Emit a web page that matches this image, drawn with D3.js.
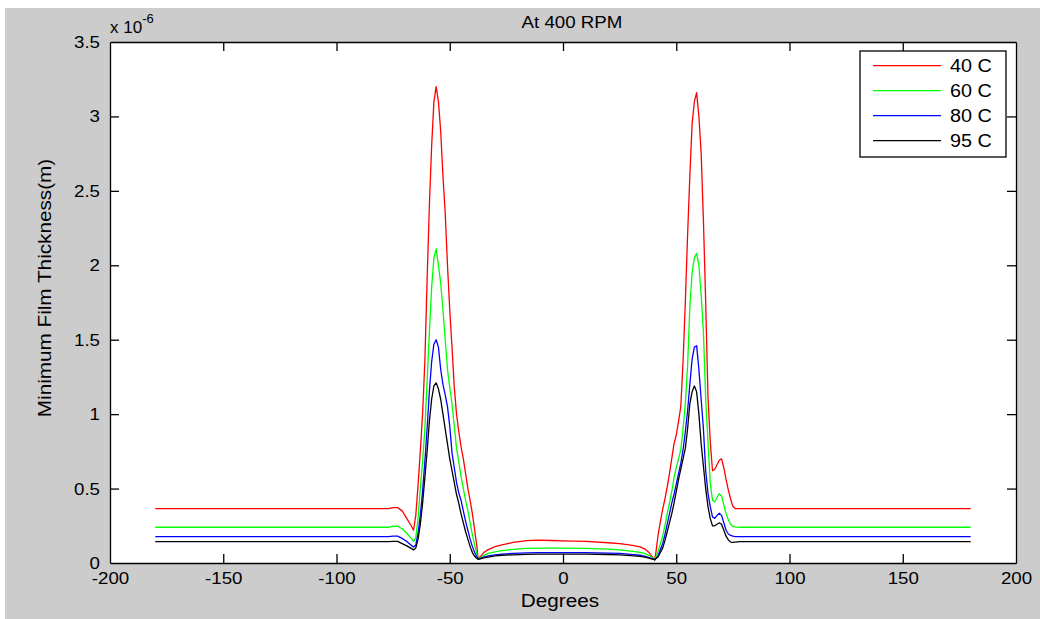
<!DOCTYPE html>
<html>
<head>
<meta charset="utf-8">
<script src="https://cdn.jsdelivr.net/npm/d3@7"></script>
<style>
  html, body { margin: 0; padding: 0; background: #ffffff; }
  svg { display: block; }
  text { font-family: "Liberation Sans", Arial, sans-serif; fill: #000; }
</style>
</head>
<body>
<svg id="chart" width="1040" height="619"></svg>
<script>
// ---------------- data ----------------
const degrees = [-180, -77, -75, -73, -71, -69, -67, -66, -65, -64, -63, -62, -61, -60, -59, -58, -57, -56, -55, -54,
  -53, -52, -51, -50, -49, -48, -47, -46, -45, -44, -43, -42, -41, -40, -39, -38, -37.5, -36, -35, -33,
  -30, -27, -22, -16, -11, -5, 0, 10, 20, 25, 30, 34, 36, 38, 39.5, 40.5, 41, 42, 43, 44,
  45, 46, 47, 48, 49, 50, 51, 52, 53, 54, 55, 56, 57, 58, 59, 60, 61, 62, 63, 64,
  65, 66, 67, 68, 69, 70, 71, 72, 73, 74, 75, 76, 78, 180];

// values in units of 1e-6 m
const temp40 = [0.365, 0.365, 0.372, 0.372, 0.35, 0.30, 0.25, 0.22, 0.32, 0.52, 0.75, 1.0, 1.35, 1.9, 2.4, 2.8, 3.1, 3.2, 3.1, 2.9,
  2.6, 2.35, 2.0, 1.7, 1.45, 1.18, 1.0, 0.88, 0.78, 0.7, 0.6, 0.5, 0.42, 0.33, 0.22, 0.11, 0.03, 0.05, 0.07, 0.09,
  0.11, 0.122, 0.138, 0.15, 0.154, 0.151, 0.149, 0.145, 0.136, 0.13, 0.12, 0.108, 0.095, 0.07, 0.04, 0.02, 0.07, 0.19, 0.28, 0.36,
  0.43, 0.51, 0.6, 0.7, 0.8, 0.86, 0.95, 1.05, 1.35, 1.75, 2.2, 2.6, 2.95, 3.1, 3.16, 3.0, 2.75, 2.3, 1.75, 1.12,
  0.82, 0.62, 0.63, 0.66, 0.69, 0.70, 0.64, 0.56, 0.49, 0.43, 0.38, 0.366, 0.365, 0.365];

const temp60 = [0.24, 0.24, 0.247, 0.247, 0.23, 0.20, 0.165, 0.145, 0.17, 0.30, 0.50, 0.68, 0.9, 1.22, 1.55, 1.85, 2.05, 2.11, 2.0, 1.88,
  1.7, 1.5, 1.3, 1.18, 1.07, 0.92, 0.77, 0.68, 0.58, 0.5, 0.42, 0.35, 0.27, 0.19, 0.12, 0.06, 0.03, 0.04, 0.05, 0.065,
  0.075, 0.083, 0.092, 0.098, 0.1, 0.1, 0.1, 0.098, 0.093, 0.088, 0.08, 0.072, 0.065, 0.05, 0.035, 0.022, 0.04, 0.08, 0.13, 0.18,
  0.25, 0.33, 0.40, 0.48, 0.57, 0.64, 0.70, 0.76, 0.9, 1.07, 1.32, 1.72, 1.95, 2.05, 2.08, 2.0, 1.8, 1.55, 1.1, 0.82,
  0.54, 0.42, 0.41, 0.44, 0.465, 0.45, 0.39, 0.33, 0.29, 0.26, 0.247, 0.243, 0.24, 0.24];

const temp80 = [0.177, 0.177, 0.18, 0.18, 0.165, 0.145, 0.12, 0.107, 0.12, 0.2, 0.32, 0.48, 0.68, 0.9, 1.15, 1.35, 1.47, 1.5, 1.45, 1.3,
  1.2, 1.13, 1.05, 0.92, 0.74, 0.64, 0.54, 0.47, 0.42, 0.35, 0.28, 0.22, 0.16, 0.11, 0.07, 0.04, 0.025, 0.035, 0.04, 0.048,
  0.055, 0.06, 0.065, 0.068, 0.07, 0.07, 0.07, 0.07, 0.067, 0.064, 0.058, 0.052, 0.046, 0.036, 0.028, 0.022, 0.03, 0.05, 0.09, 0.13,
  0.19, 0.26, 0.33, 0.40, 0.46, 0.53, 0.60, 0.67, 0.76, 0.88, 1.02, 1.2, 1.37, 1.45, 1.46, 1.3, 1.1, 0.9, 0.62, 0.47,
  0.38, 0.31, 0.30, 0.32, 0.334, 0.32, 0.27, 0.22, 0.195, 0.185, 0.18, 0.177, 0.177, 0.177];

const temp95 = [0.143, 0.143, 0.145, 0.145, 0.13, 0.115, 0.098, 0.088, 0.1, 0.16, 0.26, 0.4, 0.57, 0.75, 0.95, 1.1, 1.19, 1.21, 1.17, 1.1,
  1.0, 0.9, 0.8, 0.7, 0.62, 0.54, 0.46, 0.4, 0.33, 0.27, 0.21, 0.16, 0.11, 0.07, 0.045, 0.03, 0.025, 0.03, 0.035, 0.04,
  0.048, 0.052, 0.055, 0.058, 0.06, 0.06, 0.06, 0.06, 0.057, 0.055, 0.05, 0.045, 0.04, 0.032, 0.026, 0.022, 0.03, 0.04, 0.07, 0.1,
  0.15, 0.21, 0.27, 0.33, 0.40, 0.48, 0.56, 0.63, 0.70, 0.77, 0.9, 1.07, 1.15, 1.19, 1.15, 1.0, 0.8, 0.65, 0.5, 0.38,
  0.30, 0.25, 0.25, 0.26, 0.27, 0.26, 0.22, 0.18, 0.155, 0.14, 0.138, 0.14, 0.143, 0.143];

const seriesNames = ["40 C", "60 C", "80 C", "95 C"];
const seriesValues = [temp40, temp60, temp80, temp95];
const seriesColors = ["#ff0000", "#00ff00", "#0000ff", "#000000"];

const xTicks = [-200, -150, -100, -50, 0, 50, 100, 150, 200];
const yTicks = [0, 0.5, 1, 1.5, 2, 2.5, 3, 3.5];
const yTickLabels = ["0", "0.5", "1", "1.5", "2", "2.5", "3", "3.5"];

// ---------------- layout ----------------
const W = 1040, H = 619;
const plot = { left: 110, right: 1016, top: 42, bottom: 563 };
const STRETCH = 1.1;

const svg = d3.select("#chart");

// figure background
svg.append("rect").attr("x", 0).attr("y", 0).attr("width", W).attr("height", H).attr("fill", "#ffffff");
svg.append("rect").attr("x", 5).attr("y", 8).attr("width", W - 5).attr("height", H - 8).attr("fill", "#cccccc");

// axes background
svg.append("rect")
  .attr("x", plot.left).attr("y", plot.top)
  .attr("width", plot.right - plot.left).attr("height", plot.bottom - plot.top)
  .attr("fill", "#ffffff");

const x = d3.scaleLinear().domain([-200, 200]).range([plot.left, plot.right]);
const y = d3.scaleLinear().domain([0, 3.5]).range([plot.bottom, plot.top]);

// lines
const line = d3.line()
  .x((d, i) => x(degrees[i]))
  .y(d => y(d));

const linesG = svg.append("g");
seriesValues.forEach((vals, k) => {
  linesG.append("path")
    .datum(vals)
    .attr("d", line)
    .attr("fill", "none")
    .attr("stroke", seriesColors[k])
    .attr("stroke-width", 1.3)
    .attr("stroke-linejoin", "round");
});

// axes
const tickLen = 9;
function styleAxis(g) {
  g.selectAll("path.domain").attr("stroke", "#000").attr("stroke-width", 1.3);
  g.selectAll(".tick line").attr("stroke", "#000").attr("stroke-width", 1.3);
  g.selectAll(".tick text").attr("fill", "#000").style("font-size", "17px")
    .style("font-family", '"Liberation Sans", Arial, sans-serif');
}

const gBottom = svg.append("g").attr("transform", `translate(0,${plot.bottom})`)
  .call(d3.axisBottom(x).tickValues(xTicks).tickSizeInner(-tickLen).tickSizeOuter(0).tickPadding(9)
    .tickFormat(d3.format("d")));
styleAxis(gBottom);
gBottom.selectAll(".tick text").text(d => String(d));

const gTop = svg.append("g").attr("transform", `translate(0,${plot.top})`)
  .call(d3.axisTop(x).tickValues(xTicks).tickSizeInner(-tickLen).tickSizeOuter(0).tickFormat(""));
styleAxis(gTop);

const gLeft = svg.append("g").attr("transform", `translate(${plot.left},0)`)
  .call(d3.axisLeft(y).tickValues(yTicks).tickSizeInner(-tickLen).tickSizeOuter(0).tickPadding(10)
    .tickFormat((d, i) => yTickLabels[i]));
styleAxis(gLeft);

const gRight = svg.append("g").attr("transform", `translate(${plot.right},0)`)
  .call(d3.axisRight(y).tickValues(yTicks).tickSizeInner(-tickLen).tickSizeOuter(0).tickFormat(""));
styleAxis(gRight);

// hide ticks that coincide with box edges
[gBottom, gTop].forEach(g => g.selectAll(".tick").filter(d => d === -200 || d === 200).select("line").remove());
[gLeft, gRight].forEach(g => g.selectAll(".tick").filter(d => d === 0 || d === 3.5).select("line").remove());

// exponent label
const expG = svg.append("text").attr("x", plot.left).attr("y", 33).style("font-size", "17px");
expG.append("tspan").text("x 10");
expG.append("tspan").attr("dy", -10).style("font-size", "13px").text("-6");

// title
svg.append("text").attr("class", "title")
  .attr("x", 572).attr("y", 28)
  .attr("text-anchor", "middle").style("font-size", "17px").text("At 400 RPM");

// x label
svg.append("text").attr("class", "xlabel")
  .attr("x", 560).attr("y", 607)
  .attr("text-anchor", "middle").style("font-size", "18px").text("Degrees");

// y label
svg.append("text").attr("class", "ylabel")
  .attr("transform", `translate(51,288) rotate(-90)`)
  .attr("text-anchor", "middle").style("font-size", "18px").text("Minimum Film Thickness(m)");

// legend
const leg = { x: 860, y: 51, w: 146, h: 106 };
const legG = svg.append("g");
legG.append("rect").attr("x", leg.x).attr("y", leg.y).attr("width", leg.w).attr("height", leg.h)
  .attr("fill", "#ffffff").attr("stroke", "#000").attr("stroke-width", 1.3);
const rowY = d3.scalePoint().domain(seriesNames).range([65.7, 140.7]);
seriesNames.forEach((name, k) => {
  legG.append("line")
    .attr("x1", 873).attr("x2", 941)
    .attr("y1", rowY(name)).attr("y2", rowY(name))
    .attr("stroke", seriesColors[k]).attr("stroke-width", 1.3);
  legG.append("text")
    .attr("x", 950).attr("y", rowY(name)).attr("dy", "0.36em")
    .style("font-size", "18px").text(name);
});

// horizontal stretch of text to match reference rendering
svg.selectAll("text").each(function () {
  const len = this.getComputedTextLength();
  if (len > 0 && this.childElementCount === 0) {
    const f = d3.select(this).classed("xlabel") || d3.select(this).classed("ylabel") ? 1.15 : STRETCH;
    d3.select(this).attr("textLength", len * f).attr("lengthAdjust", "spacingAndGlyphs");
  }
});
</script>
</body>
</html>
